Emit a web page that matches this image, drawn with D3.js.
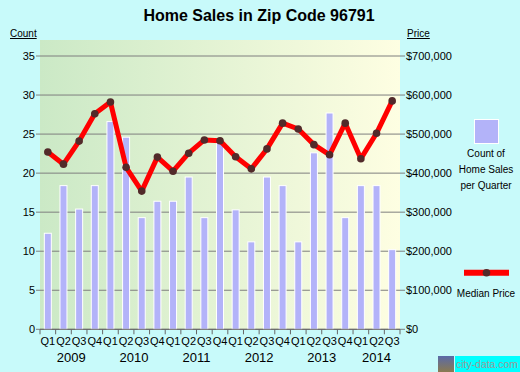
<!DOCTYPE html>
<html>
<head>
<meta charset="utf-8">
<script src="https://cdn.jsdelivr.net/npm/d3@7"></script>
<style>
  body { margin: 0; background: #c8fafa; }
  svg { display: block; font-family: "Liberation Sans", Arial, sans-serif; }
</style>
</head>
<body>
<svg id="chart" width="520" height="372"></svg>
<script>
// quarters 2009 Q1 .. 2014 Q3
const years = ["2009", "2010", "2011", "2012", "2013", "2014"];
const quarters = ["Q1", "Q2", "Q3", "Q4"];
const counts = [12.3, 18.4, 15.4, 18.4, 26.6, 24.6, 14.3, 16.4, 16.4, 19.5, 14.3, 23.9,
  15.3, 11.2, 19.5, 18.4, 11.2, 22.6, 27.7, 14.3, 18.4, 18.4, 10.2];
const prices = [454000, 423000, 482000, 552000, 582000, 415000, 354000, 441000, 405000, 451000, 485000, 483000,
  442000, 411000, 462000, 528000, 513000, 473000, 447000, 528000, 437000, 502000, 585000];
const countTicks = [0, 5, 10, 15, 20, 25, 30, 35];
const priceTicks = [0, 100000, 200000, 300000, 400000, 500000, 600000, 700000];

const slots = [];
years.forEach(y => quarters.forEach(q => { if (slots.length < counts.length) slots.push(y + " " + q); }));

const svg = d3.select("#chart");
const margin = {top: 40, left: 40, right: 400, bottom: 329.3};

// gradient for plot background
const defs = svg.append("defs");
const grad = defs.append("linearGradient").attr("id", "bg").attr("x1", 0).attr("x2", 1).attr("y1", 0).attr("y2", 0);
grad.append("stop").attr("offset", 0).attr("stop-color", "#cbe9c6");
grad.append("stop").attr("offset", 1).attr("stop-color", "#fefee2");

const x = d3.scaleBand().domain(slots).range([margin.left, margin.right]);
const yCount = d3.scaleLinear().domain([0, 35]).range([margin.bottom, 56]);
const yPrice = d3.scaleLinear().domain([0, 700000]).range([margin.bottom, 56]);

svg.append("rect")
  .attr("x", margin.left).attr("y", margin.top)
  .attr("width", margin.right - margin.left).attr("height", margin.bottom - margin.top)
  .style("fill", "url(#bg)");

// title
svg.append("text")
  .attr("x", 259).attr("y", 21)
  .attr("text-anchor", "middle")
  .attr("font-size", 16).attr("font-weight", "bold")
  .text("Home Sales in Zip Code 96791");

// gridlines
svg.append("g").selectAll("line")
  .data(countTicks)
  .join("line")
  .attr("x1", margin.left - 4).attr("x2", margin.right + 5)
  .attr("y1", d => yCount(d)).attr("y2", d => yCount(d))
  .attr("stroke", "#7f7f7f").attr("stroke-width", 1);

// left axis labels
svg.append("g").selectAll("text")
  .data(countTicks)
  .join("text")
  .attr("x", 35).attr("y", d => yCount(d) + 4)
  .attr("text-anchor", "end").attr("font-size", 11)
  .text(d => d);

// right axis labels
svg.append("g").selectAll("text")
  .data(priceTicks)
  .join("text")
  .attr("x", 406).attr("y", d => yPrice(d) + 4)
  .attr("font-size", 11)
  .text(d => "$" + d3.format(",")(d));

// axis titles
svg.append("text").attr("x", 10).attr("y", 37).attr("font-size", 10)
  .attr("text-decoration", "underline").text("Count");
svg.append("text").attr("x", 407).attr("y", 37).attr("font-size", 10)
  .attr("text-decoration", "underline").text("Price");

// bars
svg.append("g").selectAll("rect")
  .data(counts)
  .join("rect")
  .attr("x", (d, i) => x(slots[i]) + x.bandwidth() / 2 - 3.5)
  .attr("y", d => yCount(d))
  .attr("width", 7)
  .attr("height", d => margin.bottom - yCount(d))
  .attr("fill", "#b3b3f9")
  .attr("stroke", "#ffffff").attr("stroke-width", 1);

// bottom axis
const axisG = svg.append("g");
axisG.append("line")
  .attr("x1", margin.left).attr("x2", margin.right)
  .attr("y1", margin.bottom).attr("y2", margin.bottom)
  .attr("stroke", "#666");
axisG.selectAll("line.tick")
  .data(slots.concat(["end"]))
  .join("line")
  .attr("class", "tick")
  .attr("x1", (d, i) => margin.left + i * x.step())
  .attr("x2", (d, i) => margin.left + i * x.step())
  .attr("y1", margin.bottom).attr("y2", margin.bottom + 5)
  .attr("stroke", "#666");
axisG.selectAll("text.q")
  .data(slots)
  .join("text")
  .attr("class", "q")
  .attr("x", d => x(d) + x.bandwidth() / 2)
  .attr("y", 345)
  .attr("text-anchor", "middle").attr("font-size", 11)
  .text(d => d.split(" ")[1]);
axisG.selectAll("text.yr")
  .data(years)
  .join("text")
  .attr("class", "yr")
  .attr("x", y => {
    const s = slots.filter(d => d.startsWith(y));
    return (x(s[0]) + x(s[s.length - 1]) + x.bandwidth()) / 2;
  })
  .attr("y", 362)
  .attr("text-anchor", "middle").attr("font-size", 13)
  .text(d => d);

// price line
const line = d3.line()
  .x((d, i) => x(slots[i]) + x.bandwidth() / 2)
  .y(d => yPrice(d));
svg.append("path")
  .datum(prices)
  .attr("d", line)
  .attr("fill", "none")
  .attr("stroke", "#ff0000")
  .attr("stroke-width", 5)
  .attr("stroke-linejoin", "round");
svg.append("g").selectAll("circle")
  .data(prices)
  .join("circle")
  .attr("cx", (d, i) => x(slots[i]) + x.bandwidth() / 2)
  .attr("cy", d => yPrice(d))
  .attr("r", 3.8)
  .attr("fill", "#522a2a");

// legend
const lg = svg.append("g");
lg.append("rect").attr("x", 474.5).attr("y", 119.5).attr("width", 24).attr("height", 24)
  .attr("fill", "#b3b3f9").attr("stroke", "#fff");
["Count of", "Home Sales", "per Quarter"].forEach((t, i) => {
  lg.append("text").attr("x", 486).attr("y", 157 + i * 16)
    .attr("text-anchor", "middle").attr("font-size", 10).text(t);
});
lg.append("line").attr("x1", 464).attr("x2", 509).attr("y1", 272.7).attr("y2", 272.7)
  .attr("stroke", "#ff0000").attr("stroke-width", 6);
lg.append("circle").attr("cx", 486.5).attr("cy", 272.7).attr("r", 3.8).attr("fill", "#522a2a");
lg.append("text").attr("x", 486).attr("y", 297)
  .attr("text-anchor", "middle").attr("font-size", 10).text("Median Price");

// watermark
const wm = svg.append("g");
const wg = defs.append("linearGradient").attr("id", "wmg").attr("x1", 0).attr("x2", 0).attr("y1", 0).attr("y2", 1);
wg.append("stop").attr("offset", 0).attr("stop-color", "#5a6aa8");
wg.append("stop").attr("offset", 1).attr("stop-color", "#8a7a50");
wm.append("rect").attr("x", 438).attr("y", 356).attr("width", 16).attr("height", 16).attr("fill", "url(#wmg)");
wm.append("rect").attr("x", 455).attr("y", 356).attr("width", 65).attr("height", 16).attr("fill", "#00ffff");
wm.append("text").attr("x", 456).attr("y", 368).attr("font-size", 10)
  .attr("textLength", 62).attr("lengthAdjust", "spacingAndGlyphs")
  .attr("fill", "#9a9a9a").text("city-data.com");
</script>
</body>
</html>
